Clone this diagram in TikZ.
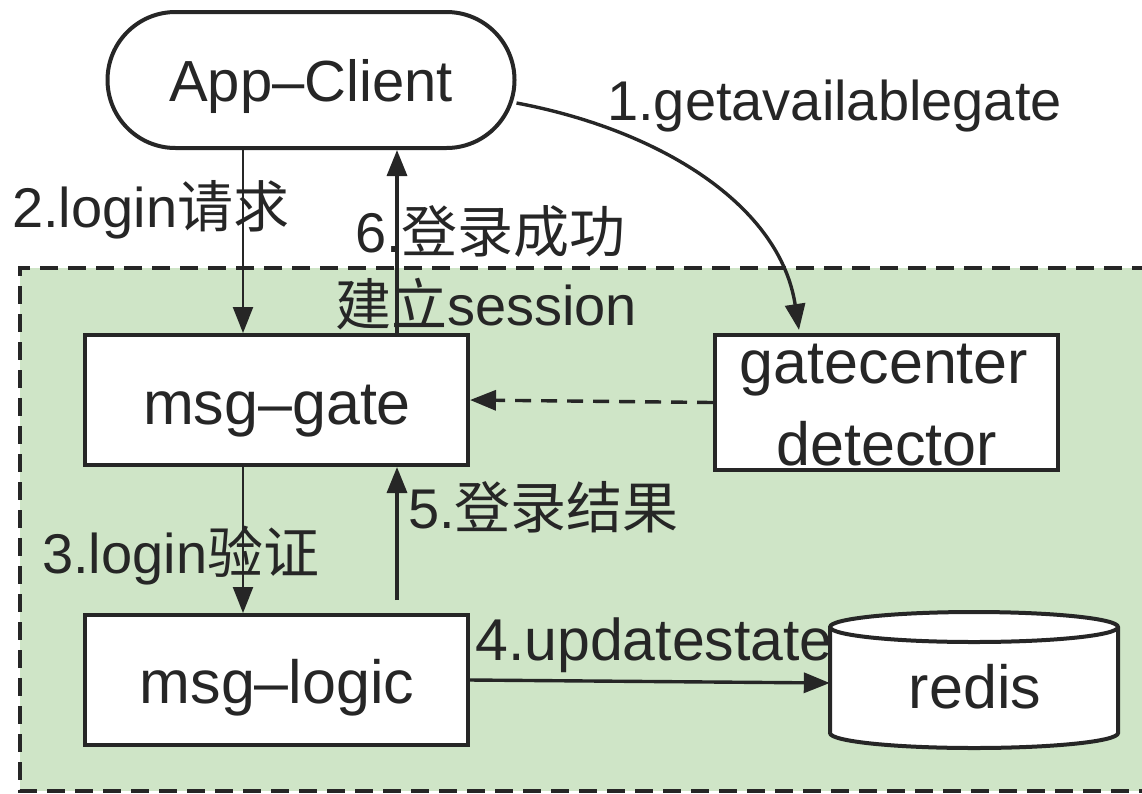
\documentclass[tikz,border=0pt]{standalone}
\usepackage{fontspec}
\setmainfont{Liberation Sans}
\newfontfamily\cjk{Noto Sans CJK SC}
\usetikzlibrary{arrows.meta,calc}
\definecolor{zone}{HTML}{CFE5C7}
\definecolor{ink}{HTML}{262626}
\tikzset{
  box/.style={draw=ink, line width=4pt, fill=white, inner sep=0pt},
  flow/.style={draw=ink, line width=3.4pt, -{Triangle[length=26pt,width=20pt]}},
  thinflow/.style={draw=ink, line width=2.4pt, -{Triangle[length=26pt,width=20pt]}},
  lbl/.style={font=\fontsize{56}{60}\selectfont, text=ink, inner sep=0pt, anchor=base west},
  title/.style={font=\fontsize{61}{66}\selectfont, text=ink, inner sep=0pt},
}
\begin{document}
\begin{tikzpicture}[x=1pt,y=-1pt]
\useasboundingbox (0,0) rectangle (1142,793);

% service zone
\fill[zone] (20,268) rectangle (1150,791);
\draw[ink, line width=4pt, dash pattern=on 18pt off 10pt]
  (1150,268) -- (20,268) -- (20,791) -- (1150,791);

% client
\node[box, rounded corners=68pt, minimum width=407pt, minimum height=136pt] (client) at (311,80) {};
\node[title, anchor=base, font=\fontsize{58}{62}\selectfont] at (311,101) {App–Client};

% gateway and logic
\node[box, minimum width=383pt, minimum height=130pt] (gate) at (276.5,400) {};
\node[title, anchor=base] at (277,424) {msg–gate};
\node[box, minimum width=383pt, minimum height=130pt] (logic) at (276.5,680) {};
\node[title, anchor=base] at (277,703) {msg–logic};

% gatecenter detector
\node[box, minimum width=343pt, minimum height=135pt] (center) at (886.5,402.5) {};
\node[title, anchor=base] at (884,383) {gatecenter};
\node[title, anchor=base] at (886.5,465) {detector};

% redis store
\node[minimum width=288pt, minimum height=120pt, inner sep=0pt] (redis) at (974,683) {};
\filldraw[fill=white, draw=ink, line width=4pt]
  (830,627) -- (830,733) arc[start angle=180, end angle=360, x radius=144pt, y radius=15pt]
  -- (1118,627) arc[start angle=0, end angle=180, x radius=144pt, y radius=15pt] -- cycle;
\draw[ink, line width=4pt] (830,627) arc[start angle=180, end angle=0, x radius=144pt, y radius=-15pt];
\node[title, anchor=base] at (975,708) {redis};

% connectors
\draw[flow] (client.east) ++(0,23) coordinate (c1)
  (c1) .. controls (660,130) and (780,205) .. ($(center.north west)+(86,-3)$);
\draw[thinflow] (client.south -| 243,0) -- (gate.north -| 243,0);
\draw[flow] (gate.north -| 397,0) -- (client.south -| 397,0);
\draw[thinflow] (gate.south -| 243,0) -- (logic.north -| 243,0);
\draw[flow] (397,600) coordinate (r5) -- (gate.south -| r5);
\draw[flow] (logic.east) -- (redis.west);
\draw[flow, dash pattern=on 16pt off 10pt] (center.west) -- (gate.east);

% labels
\node[lbl] at (607,120) {1.getavailablegate};
\node[lbl] at (12,227) {2.login{\cjk 请求}};
\node[lbl] at (355,252) {6.{\cjk 登录成功}};
\node[lbl] at (335,325) {{\cjk 建立}session};
\node[lbl] at (42,573) {3.login{\cjk 验证}};
\node[lbl] at (408,528) {5.{\cjk 登录结果}};
\node[lbl, font=\fontsize{59}{62}\selectfont] at (475,660) {4.updatestate};
\end{tikzpicture}
\end{document}
